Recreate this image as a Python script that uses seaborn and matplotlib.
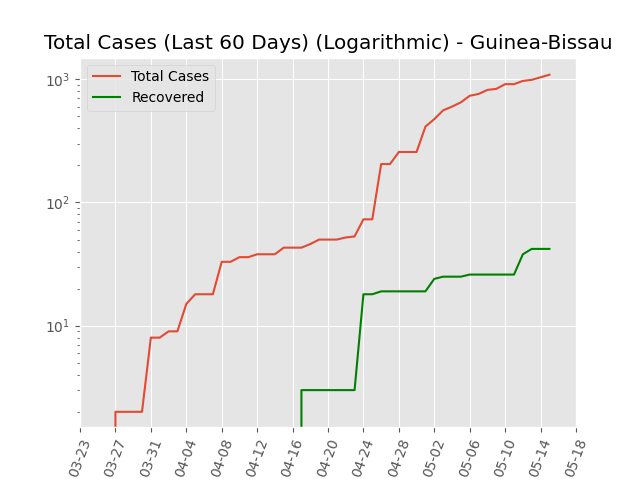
import pandas as pd
import numpy as np
import seaborn as sns
import matplotlib
matplotlib.use("Agg")
import matplotlib.pyplot as plt
import matplotlib.dates as mdates

plt.style.use('ggplot')

# Last 60 days: 2020-03-17 .. 2020-05-15
dates = pd.date_range('2020-03-17', '2020-05-15', freq='D')
total_cases = ([0] * 10 + [2, 2, 2, 2, 8] +
               [8, 9, 9, 15, 18, 18, 18, 33, 33, 36, 36, 38, 38, 38, 43,
                43, 43, 46, 50, 50, 50, 52, 53, 73, 73, 205, 205, 257, 257, 257] +
               [413, 475, 560, 600, 650, 735, 760, 820, 836, 913, 913, 970, 990, 1038, 1089])
recovered = ([0] * 31 + [3] * 7 + [18] * 2 + [19] * 6 + [24] + [25] * 3 +
             [26] * 6 + [38] + [42] * 3)

df = pd.DataFrame({'Date': dates, 'Total Cases': total_cases, 'Recovered': recovered})

fig, ax = plt.subplots(figsize=(6.4, 4.8), dpi=100)
ax.set_yscale('log')
sns.lineplot(data=df, x='Date', y='Total Cases', ax=ax, color='#E24A33', label='Total Cases')
sns.lineplot(data=df, x='Date', y='Recovered', ax=ax, color='green', label='Recovered')

ax.set_xlim(pd.Timestamp('2020-03-23'), pd.Timestamp('2020-05-18'))
ax.set_ylim(1.5, 1500)
ax.xaxis.set_major_locator(mdates.DayLocator(interval=4))
ax.set_xticks(pd.date_range('2020-03-23', '2020-05-18', freq='4D'))
ax.xaxis.set_major_formatter(mdates.DateFormatter('%m-%d'))
plt.xticks(rotation=70)
ax.set_xlabel('')
ax.set_ylabel('')
ax.set_title('Total Cases (Last 60 Days) (Logarithmic) - Guinea-Bissau')
ax.legend(loc='upper left', facecolor='#E5E5E5')
plt.savefig('out.png')
